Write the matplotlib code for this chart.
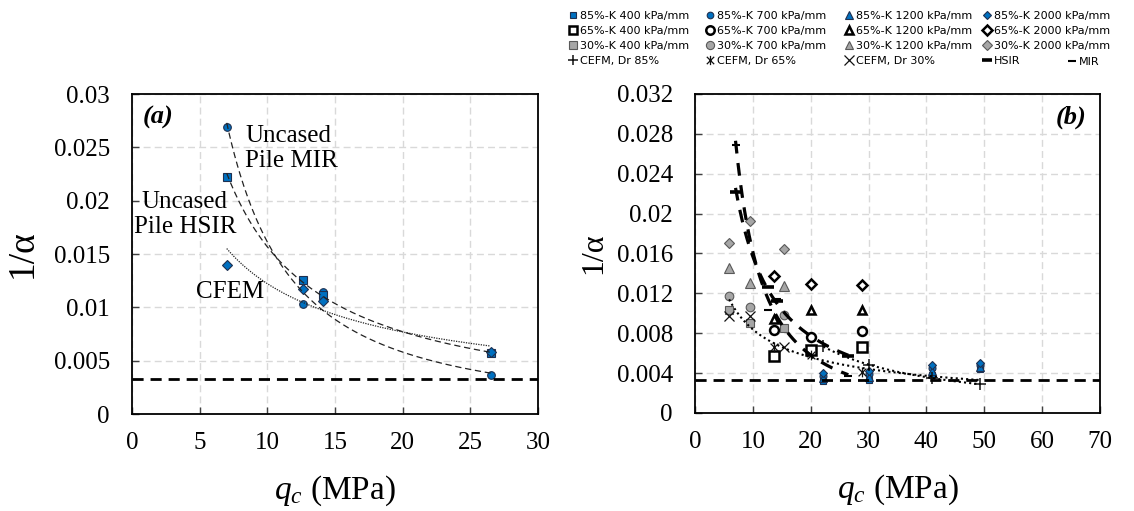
import numpy as np
import matplotlib
matplotlib.use("Agg")
import matplotlib.pyplot as plt
from matplotlib.path import Path
from matplotlib.ticker import FuncFormatter

plt.rcParams["font.family"] = "Liberation Serif"
plt.rcParams["mathtext.fontset"] = "custom"
plt.rcParams["mathtext.rm"] = "Liberation Serif"
plt.rcParams["mathtext.it"] = "Liberation Serif:italic"

# ---- panel (a): uncased pile results ----
qc_a = [7.0, 12.6, 14.1, 26.5]
mir_a = [0.0269, 0.0103, 0.0114, 0.0037]    # circles
hsir_a = [0.0222, 0.0126, 0.0112, 0.0057]   # squares
cfem_a = [0.0140, 0.0117, 0.0106, 0.0058]   # diamonds
limit_y = 0.0033

# ---- panel (b): parametric study ----
qc_85 = [22.2, 30.1, 40.9, 49.3]
k400_85 = [0.0032, 0.0033, 0.0038, 0.0044]
k700_85 = [0.0037, 0.0039, 0.0045, 0.0048]
k1200_85 = [0.0035, 0.0036, 0.0042, 0.0046]
k2000_85 = [0.0040, 0.0042, 0.0048, 0.0050]

qc_65 = [13.7, 20.0, 28.9]
k400_65 = [0.0057, 0.0063, 0.0066]
k700_65 = [0.0083, 0.0076, 0.0082]
k1200_65 = [0.0094, 0.0103, 0.0103]
k2000_65 = [0.0137, 0.0129, 0.0128]

qc_30 = [5.9, 9.5, 15.4]
k400_30 = [0.0103, 0.0090, 0.0085]
k700_30 = [0.0117, 0.0106, 0.0098]
k1200_30 = [0.0145, 0.0130, 0.0127]
k2000_30 = [0.0171, 0.0193, 0.0164]

cefm_85 = [0.0067, 0.0048, 0.0035, 0.0029]
cefm_65 = [0.0066, 0.0058, 0.0041]
cefm_30 = [0.0097, 0.0097, 0.0066]

BLUE = "#0070c0"
BLUE_EDGE = "#1f3050"
GRAY = "#a6a6a6"
GRAY_EDGE = "#595959"

star = Path([(-1, -1), (1, 1), (-1, 1), (1, -1), (0, -1.25), (0, 1.25)],
            [Path.MOVETO, Path.LINETO] * 3)


def power_fit(x, y):
    x = np.asarray(x)
    y = np.asarray(y)
    b, ln_a = np.polyfit(np.log(x), np.log(y), 1)
    xs = np.linspace(x.min(), x.max(), 200)
    return xs, np.exp(ln_a) * xs ** b


def style(ax, xmax, xstep, ymax, ystep):
    ax.set_xlim(0, xmax)
    ax.set_ylim(0, ymax)
    ax.set_xticks(np.arange(0, xmax + 1e-9, xstep))
    ax.set_yticks(np.arange(0, ymax + 1e-9, ystep))
    ax.yaxis.set_major_formatter(FuncFormatter(lambda v, p: f"{v:g}"))
    ax.xaxis.set_major_formatter(FuncFormatter(lambda v, p: f"{v:g}"))
    ax.grid(True, color="#d9d9d9", linestyle=(0, (5, 3)), linewidth=1)
    ax.set_axisbelow(True)
    ax.tick_params(direction="in", length=5, width=1, labelsize=18, color="#404040")
    ax.tick_params(axis="y", pad=16)
    ax.tick_params(axis="x", pad=13)
    for s in ax.spines.values():
        s.set_linewidth(1.3)
        s.set_color("black")


fig = plt.figure(figsize=(11.34, 5.11), dpi=100)
axa = fig.add_axes([0.1164, 0.1898, 0.358, 0.626])
axb = fig.add_axes([0.6129, 0.1918, 0.3571, 0.6243])

# ---------------- panel (a) ----------------
style(axa, 30, 5, 0.03, 0.005)
axa.plot(qc_a, mir_a, "o", ms=5.5, mfc=BLUE, mec=BLUE_EDGE, mew=0.8, zorder=3)
axa.plot(qc_a, hsir_a, "s", ms=5.2, mfc=BLUE, mec=BLUE_EDGE, mew=0.8, zorder=3)
axa.plot(qc_a, cfem_a, "D", ms=4.6, mfc=BLUE, mec=BLUE_EDGE, mew=0.8, zorder=3)
xs, ys = power_fit(qc_a, mir_a)
axa.plot(xs, ys, color="#222222", lw=0.9, ls=(0, (5, 3)), zorder=4)
xs, ys = power_fit(qc_a, hsir_a)
axa.plot(xs, ys, color="#222222", lw=0.9, ls=(0, (5, 3)), zorder=4)
xs, ys = power_fit(qc_a, cfem_a)
axa.plot(xs, ys, color="#222222", lw=0.9, ls=(0, (1, 1)), zorder=4)
axa.axhline(limit_y, color="black", lw=2, ls=(0, (4, 2.5)), zorder=4)

axa.text(0.8, 0.0278, "(a)", fontsize=19, fontweight="bold", fontstyle="italic",
         ha="left", va="center")
axa.text(8.35, 0.0249, "Uncased\nPile MIR", fontsize=18, ha="left", va="center",
         linespacing=1.15)
axa.text(3.9, 0.0187, "Uncased\nPile HSIR", fontsize=18, ha="center", va="center",
         multialignment="center", linespacing=1.15)
axa.text(7.25, 0.0114, "CFEM", fontsize=18, ha="center", va="center")
axa.set_xlabel(r"$q_c$ (MPa)", fontsize=24, labelpad=14)
axa.set_ylabel("1/α", fontsize=27, labelpad=10)

# ---------------- panel (b) ----------------
style(axb, 70, 10, 0.032, 0.004)
handles = {}
groups = [
    ("85%", qc_85, [k400_85, k700_85, k1200_85, k2000_85], BLUE, BLUE_EDGE, 0.8, [4.8, 5.0, 5.4, 4.4]),
    ("65%", qc_65, [k400_65, k700_65, k1200_65, k2000_65], "white", "black", 1.8, [6.6, 6.4, 6.4, 5.4]),
    ("30%", qc_30, [k400_30, k700_30, k1200_30, k2000_30], GRAY, GRAY_EDGE, 0.8, [6.2, 6.2, 6.6, 5.4]),
]
stiff = ["400", "700", "1200", "2000"]
marks = ["s", "o", "^", "D"]
for name, qc, series, fc, ec, ew, sizes in groups:
    for k, y, m, ms in zip(stiff, series, marks, sizes):
        (h,) = axb.plot(qc, y, m, ms=ms, mfc=fc, mec=ec, mew=ew, zorder=3,
                        label=f"{name}-K {k} kPa/mm")
        handles[(name, k)] = h

(h85,) = axb.plot(qc_85, cefm_85, "+", ms=8, color="#111111", mew=1.1, zorder=3,
                  label="CEFM, Dr 85%")
(h65,) = axb.plot(qc_65, cefm_65, marker=star, ls="none", ms=7, color="#111111",
                  mew=0.9, zorder=3, label="CEFM, Dr 65%")
(h30,) = axb.plot(qc_30, cefm_30, "x", ms=7, color="#111111", mew=0.9, zorder=3,
                  label="CEFM, Dr 30%")
(hh,) = axb.plot(qc_a, hsir_a, "_", ms=8, color="black", mew=2.6, zorder=5, label="HSIR")
(hm,) = axb.plot(qc_a, mir_a, "_", ms=6, color="black", mew=1.5, zorder=5, label="MIR")

xs, ys = power_fit(qc_a, mir_a)
axb.plot(xs, ys, color="black", lw=2.3, ls=(0, (4, 3)), zorder=4)
xs, ys = power_fit(qc_a, hsir_a)
axb.plot(xs, ys, color="black", lw=2.3, ls=(0, (4, 3)), zorder=4)
cefm_x = qc_30 + qc_65 + qc_85
cefm_y = cefm_30 + cefm_65 + cefm_85
xs, ys = power_fit(cefm_x, cefm_y)
axb.plot(xs, ys, color="black", lw=1.5, ls=(0, (1, 1.5)), zorder=4)
xs, ys = power_fit(qc_85, cefm_85)
axb.plot(xs, ys, color="black", lw=1.5, ls=(0, (1, 1.5)), zorder=4)
axb.axhline(limit_y, color="black", lw=2, ls=(0, (4, 2.5)), zorder=4)

axb.text(65, 0.0297, "(b)", fontsize=19, fontweight="bold", fontstyle="italic",
         ha="center", va="center")
axb.set_xlabel(r"$q_c$ (MPa)", fontsize=24, labelpad=14)
axb.set_ylabel("1/α", fontsize=23, labelpad=6)

# ---------------- legend: one small legend per column ----------------
columns = [
    [handles[("85%", "400")], handles[("65%", "400")], handles[("30%", "400")], h85],
    [handles[("85%", "700")], handles[("65%", "700")], handles[("30%", "700")], h65],
    [handles[("85%", "1200")], handles[("65%", "1200")], handles[("30%", "1200")], h30],
    [handles[("85%", "2000")], handles[("65%", "2000")], handles[("30%", "2000")], hh],
]
col_x = [569, 706, 845, 983]
leg_font = {"family": "DejaVu Sans", "size": 8.0}
for hs, x0 in zip(columns, col_x):
    fig.legend(hs, [h.get_label() for h in hs], loc="upper left",
               bbox_to_anchor=(x0 / 1134, 1 - 11 / 511), frameon=False,
               prop=leg_font, handlelength=0.7, handletextpad=0.3,
               labelspacing=0.45, borderaxespad=0, borderpad=0,
               markerscale=0.95)
fig.legend([hm], ["MIR"], loc="upper left",
           bbox_to_anchor=(1068 / 1134, 1 - 57 / 511), frameon=False,
           prop=leg_font, handlelength=0.7, handletextpad=0.3,
           borderaxespad=0, borderpad=0, markerscale=0.95)

fig.savefig("out.png", dpi=100)
